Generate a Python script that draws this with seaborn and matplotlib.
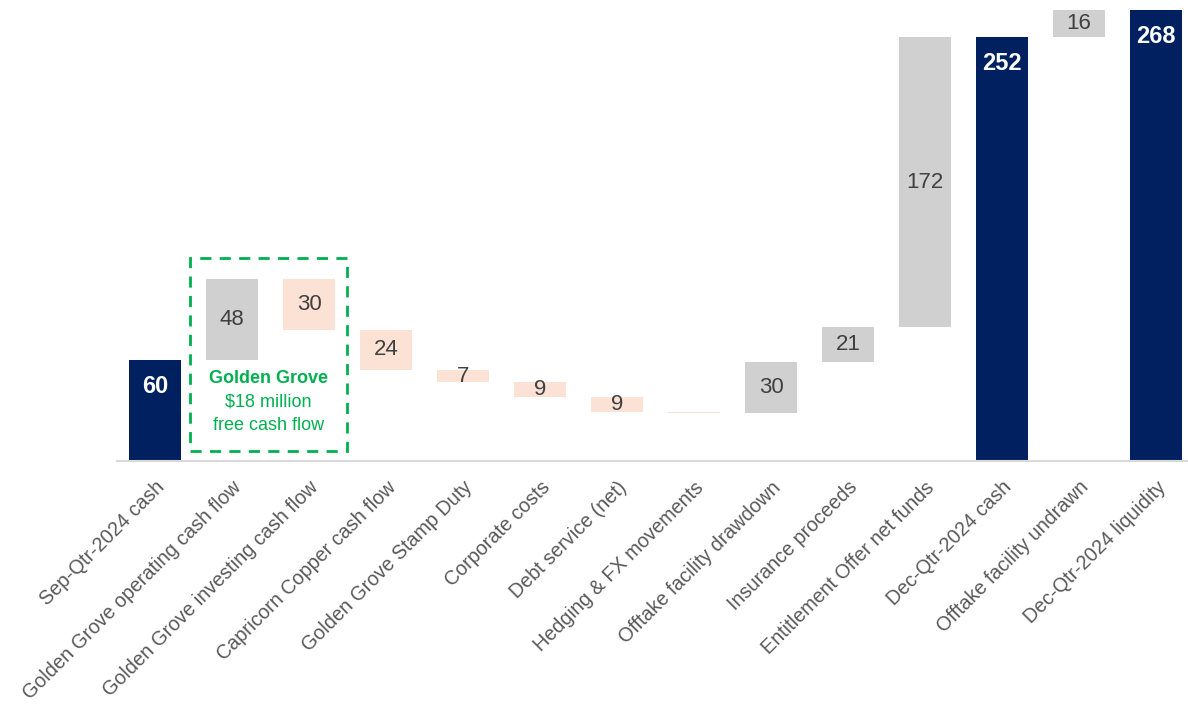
import numpy as np
import pandas as pd
import matplotlib
matplotlib.use("Agg")
import matplotlib.pyplot as plt
import seaborn as sns
from matplotlib.patches import Rectangle

categories = ["Sep-Qtr-2024 cash", "Golden Grove operating cash flow",
              "Golden Grove investing cash flow", "Capricorn Copper cash flow",
              "Golden Grove Stamp Duty", "Corporate costs", "Debt service (net)",
              "Hedging & FX movements", "Offtake facility drawdown",
              "Insurance proceeds", "Entitlement Offer net funds",
              "Dec-Qtr-2024 cash", "Offtake facility undrawn", "Dec-Qtr-2024 liquidity"]
changes = [60, 48, -30, -24, -7, -9, -9, -0.3, 30, 21, 172, 252, 16, 268]
kinds = ["total", "up", "down", "down", "down", "down", "down", "down",
         "up", "up", "up", "total", "up", "total"]
labels = ["60", "48", "30", "24", "7", "9", "9", "", "30", "21", "172", "252", "16", "268"]

# running waterfall
bases, heights = [], []
level = 0.0
for v, k in zip(changes, kinds):
    if k == "total":
        bases.append(0.0); heights.append(v); level = v
    elif v >= 0:
        bases.append(level); heights.append(v); level += v
    else:
        bases.append(level + v); heights.append(-v); level += v

df = pd.DataFrame({"cat": categories, "height": heights, "base": bases, "kind": kinds})
colors = {"total": "#002060", "up": "#D0D0D0", "down": "#FCE2D5"}

sns.set_theme(style="white")
plt.rcParams["font.family"] = ["Liberation Sans", "DejaVu Sans"]

fig = plt.figure(figsize=(11.88, 7.08), dpi=100)
W, H = 1188, 708
ax_left = 116.5 / W
ax_bottom = (H - 461) / H
ppu = 1.683
ymax = 270
ax = fig.add_axes([ax_left, ax_bottom, 1078 / W, ymax * ppu / H])

sns.barplot(data=df, x="cat", y="height", bottom=df["base"].to_numpy(),
            width=0.675, ax=ax, color="#D0D0D0", saturation=1)
for p, k in zip(ax.patches, kinds):
    p.set_facecolor(colors[k])
    p.set_edgecolor("none")

ax.set_ylim(0, ymax)
ax.set_xlim(-0.5, 13.5)
ax.set_xlabel("")
ax.set_ylabel("")
ax.set_yticks([])
for s in ["top", "right", "left"]:
    ax.spines[s].set_visible(False)
ax.spines["bottom"].set_color("#D9D9D9")
ax.spines["bottom"].set_linewidth(1.5)
ax.tick_params(axis="x", length=0, pad=12)
ax.set_xticks(range(len(categories)))
ax.set_xticklabels(categories, rotation=45, ha="right", rotation_mode="anchor",
                   fontsize=14.2, color="#595959")

for i, (b, h, k, lab) in enumerate(zip(bases, heights, kinds, labels)):
    if not lab:
        continue
    if k == "total":
        ax.text(i, b + h - 16, lab, ha="center", va="center", color="white",
                fontsize=17, fontweight="bold")
    else:
        ax.text(i, b + h / 2, lab, ha="center", va="center", color="#404040",
                fontsize=16)

# Golden Grove dashed box
ax.add_patch(Rectangle((0.455, 5.9), 2.493 - 0.455, 120.6 - 5.9, fill=False,
                       edgecolor="#00B050", linestyle=(0, (4, 3)), linewidth=2,
                       clip_on=False))
green = "#00B050"
ax.text(1.47, 49.3, "Golden Grove", ha="center", va="center", color=green,
        fontsize=13, fontweight="bold")
ax.text(1.47, 35.0, "$18 million", ha="center", va="center", color=green, fontsize=13)
ax.text(1.47, 20.8, "free cash flow", ha="center", va="center", color=green, fontsize=13)

fig.savefig("out.png", dpi=100)
